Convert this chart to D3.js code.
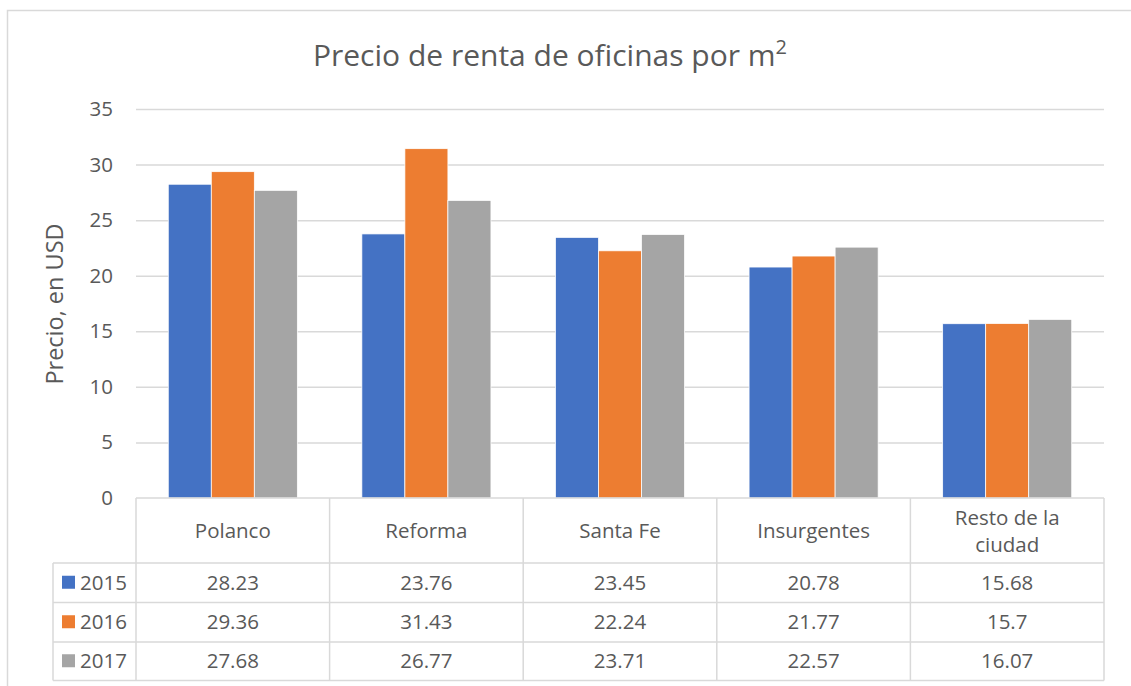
<!DOCTYPE html>
<html><head><meta charset="UTF-8">
<style>
  body { margin: 0; background: #fff; font-family: "Open Sans", sans-serif; }
  svg text { fill: #595959; font-family: "Open Sans", sans-serif; }
</style>
</head>
<body>
<svg id="chart" width="1131" height="686"></svg>
<script src="https://cdn.jsdelivr.net/npm/d3@7"></script>
<script>
var categories = ["Polanco", "Reforma", "Santa Fe", "Insurgentes", "Resto de la ciudad"];
var series = ["2015", "2016", "2017"];
var values2015 = [28.23, 23.76, 23.45, 20.78, 15.68];
var values2016 = [29.36, 31.43, 22.24, 21.77, 15.7];
var values2017 = [27.68, 26.77, 23.71, 22.57, 16.07];
var yTicks = [0, 5, 10, 15, 20, 25, 30, 35];
var colors = ["#4472C4", "#ED7D31", "#A5A5A5"];

var allValues = [values2015, values2016, values2017];

var W = 1131, H = 686;
var plot = {left: 136, right: 1104, top: 109, bottom: 498};
var rowH = [65, 39.5, 39.5, 38.5]; // header row + one per series
var legendLeft = 53;
var fs = 20.5;

var svg = d3.select("#chart");

// outer border
svg.append("rect")
  .attr("x", 7.5).attr("y", 10.5)
  .attr("width", W + 10).attr("height", H + 10)
  .attr("fill", "none").attr("stroke", "#d9d9d9").attr("stroke-width", 1.5);

// title
var title = svg.append("text")
  .attr("x", 550).attr("y", 66)
  .attr("text-anchor", "middle")
  .attr("font-size", 30);
title.append("tspan").text("Precio de renta de oficinas por m");
title.append("tspan").attr("dy", -12).attr("font-size", 20).text("2");

var x = d3.scaleBand().domain(categories).range([plot.left, plot.right]);
var y = d3.scaleLinear().domain([0, 35]).range([plot.bottom, plot.top]);

// gridlines
svg.append("g").selectAll("line").data(yTicks.slice(1)).join("line")
  .attr("x1", plot.left).attr("x2", plot.right)
  .attr("y1", function (d) { return y(d) + 0.5; })
  .attr("y2", function (d) { return y(d) + 0.5; })
  .attr("stroke", "#d9d9d9").attr("stroke-width", 1.5);

// y axis
var yAxis = d3.axisLeft(y).tickValues(yTicks).tickSize(0).tickPadding(23);
var gy = svg.append("g").attr("transform", "translate(" + plot.left + ",0)").call(yAxis);
gy.select(".domain").remove();
gy.selectAll("text").attr("font-size", fs).attr("font-family", "'Open Sans', sans-serif").attr("fill", "#595959");

svg.append("text")
  .attr("transform", "translate(63," + 304 + ") rotate(-90)")
  .attr("text-anchor", "middle")
  .attr("font-size", 23.5)
  .text("Precio, en USD");

// bars, gap width 150%
var bw = x.bandwidth() / 4.5;
series.forEach(function (s, i) {
  svg.append("g").selectAll("rect").data(allValues[i]).join("rect")
    .attr("x", function (d, j) { return x(categories[j]) + bw * 0.75 + bw * i; })
    .attr("y", function (d) { return y(d); })
    .attr("width", bw)
    .attr("height", function (d) { return y(0) - y(d); })
    .attr("fill", colors[i])
    .attr("stroke", "#fff").attr("stroke-width", 0.75);
});

// data table
var rowY = [plot.bottom];
rowH.forEach(function (h) { rowY.push(rowY[rowY.length - 1] + h); });
var tbl = svg.append("g").attr("stroke", "#d9d9d9").attr("stroke-width", 1.5);
tbl.append("line").attr("x1", plot.left).attr("x2", plot.right).attr("y1", rowY[0]).attr("y2", rowY[0]);
rowY.slice(1).forEach(function (yy) {
  tbl.append("line").attr("x1", legendLeft).attr("x2", plot.right).attr("y1", yy).attr("y2", yy);
});
tbl.append("line").attr("x1", legendLeft).attr("x2", legendLeft).attr("y1", rowY[1]).attr("y2", rowY[4]);
categories.forEach(function (c) {
  tbl.append("line").attr("x1", x(c)).attr("x2", x(c)).attr("y1", rowY[0]).attr("y2", rowY[4]);
});
tbl.append("line").attr("x1", plot.right).attr("x2", plot.right).attr("y1", rowY[0]).attr("y2", rowY[4]);

// category labels
categories.forEach(function (c) {
  var cx = x(c) + x.bandwidth() / 2;
  var cy = rowY[0] + rowH[0] / 2;
  if (c === "Resto de la ciudad") {
    svg.append("text").attr("x", cx).attr("y", cy - 6).attr("text-anchor", "middle")
      .attr("font-size", fs).text("Resto de la");
    svg.append("text").attr("x", cx).attr("y", cy + 21).attr("text-anchor", "middle")
      .attr("font-size", fs).text("ciudad");
  } else {
    svg.append("text").attr("x", cx).attr("y", cy + 7).attr("text-anchor", "middle")
      .attr("font-size", fs).text(c);
  }
});

// series rows
series.forEach(function (s, i) {
  var cy = rowY[i + 1] + rowH[i + 1] / 2;
  svg.append("rect").attr("x", 62).attr("y", cy - 7).attr("width", 13).attr("height", 13).attr("fill", colors[i]);
  svg.append("text").attr("x", 80).attr("y", cy + 7).attr("font-size", fs).text(s);
  allValues[i].forEach(function (v, j) {
    svg.append("text")
      .attr("x", x(categories[j]) + x.bandwidth() / 2)
      .attr("y", cy + 7)
      .attr("text-anchor", "middle")
      .attr("font-size", fs)
      .text(v);
  });
});
</script>
</body></html>
